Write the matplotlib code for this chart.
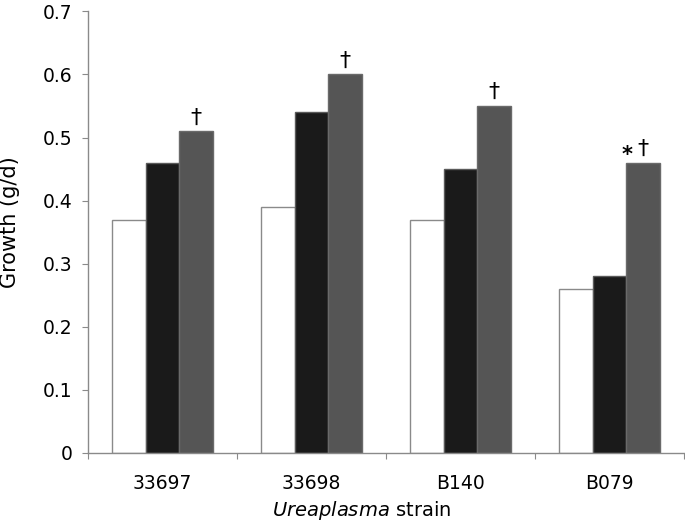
import matplotlib
matplotlib.use("Agg")
import matplotlib.pyplot as plt
import numpy as np

plt.rcParams['font.family'] = ['DejaVu Sans']

strains = ["33697", "33698", "B140", "B079"]
series_white = [0.37, 0.39, 0.37, 0.26]
series_black = [0.46, 0.54, 0.45, 0.28]
series_gray = [0.51, 0.60, 0.55, 0.46]
annotations = ["\u2020", "\u2020", "\u2020", "*\u2020"]
yticks = [0, 0.1, 0.2, 0.3, 0.4, 0.5, 0.6, 0.7]
ytick_labels = ["0", "0.1", "0.2", "0.3", "0.4", "0.5", "0.6", "0.7"]

W, H = 685, 525
fig = plt.figure(figsize=(W / 100, H / 100), dpi=100)
ax = fig.add_axes([88 / W, (H - 453) / H, (684 - 88) / W, (453 - 11.3) / H])

x = np.arange(len(strains))
w = 0.225
edge = "#8a8a8a"
ax.bar(x - w, series_white, w, color="white", edgecolor=edge, linewidth=1.0)
ax.bar(x, series_black, w, color="#1a1a1a", edgecolor="#5a5a5a", linewidth=1.0)
ax.bar(x + w, series_gray, w, color="#555555", edgecolor="#6a6a6a", linewidth=1.0)

for xi, v, a in zip(x, series_gray, annotations):
    if a.startswith("*"):
        ax.text(xi + w - 0.104, v + 0.002, "*", ha="center", va="baseline", fontsize=15, fontweight="bold")
    ax.text(xi + w, v + 0.006, "\u2020", ha="center", va="bottom", fontsize=16)

ax.set_xlim(-0.5, len(strains) - 0.5)
ax.set_ylim(0, 0.7)
ax.set_yticks(yticks)
ax.set_yticklabels(ytick_labels, fontsize=13.5)
ax.set_xticks(np.arange(len(strains) + 1) - 0.5, minor=False)
ax.set_xticklabels([])
ax.set_xticks(x, minor=True)
ax.set_xticklabels(strains, minor=True, fontsize=13.5)
ax.tick_params(axis="x", which="minor", length=0, pad=15)
ax.tick_params(axis="x", which="major", length=4.5, color=edge, direction="out")
ax.tick_params(axis="y", length=4.5, color=edge, direction="out", pad=6.5)

for s in ["top", "right"]:
    ax.spines[s].set_visible(False)
for s in ["left", "bottom"]:
    ax.spines[s].set_color(edge)
    ax.spines[s].set_linewidth(1.0)

fig.text(10 / W, 1 - 222 / H, "Growth (g/d)", rotation=90, ha="center", va="center", fontsize=15)
fig.text(361.5 / W, 1 - 510 / H, r"$\it{Ureaplasma}$ strain", ha="center", va="center", fontsize=14)

fig.savefig("out.png", dpi=100)
